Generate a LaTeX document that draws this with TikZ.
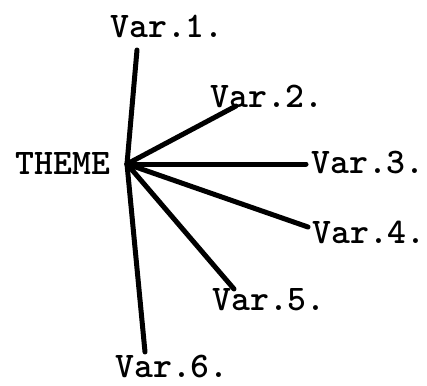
\documentclass[tikz,border=0pt]{standalone}
\begin{document}
\begin{tikzpicture}[x=1pt,y=-1pt,
  lbl/.style={inner sep=0pt,font=\ttfamily\bfseries\fontsize{36}{36}\selectfont},
  spoke/.style={line width=5pt,line cap=round}]
\useasboundingbox (0,0) rectangle (427,385);
% labels
\node[lbl] (theme) at (63,164) {THEME};
\node[lbl] (v1) at (167,26) {Var.1.};
\node[lbl] (v2) at (267,96) {Var.2.};
\node[lbl] (v3) at (368,163) {Var.3.};
\node[lbl] (v4) at (369,232) {Var.4.};
\node[lbl] (v5) at (269,300) {Var.5.};
\node[lbl] (v6) at (172,366) {Var.6.};
% hub and spoke ends
\coordinate (hub) at (127,164);
\coordinate (e1) at (137,50);
\coordinate (e2) at (236,106);
\coordinate (e3) at (306,164);
\coordinate (e4) at (308,227);
\coordinate (e5) at (234,289);
\coordinate (e6) at (145,352);
\foreach \e in {e1,e2,e3,e4,e5,e6}
  \draw[spoke] (hub) -- (\e);
\end{tikzpicture}
\end{document}
